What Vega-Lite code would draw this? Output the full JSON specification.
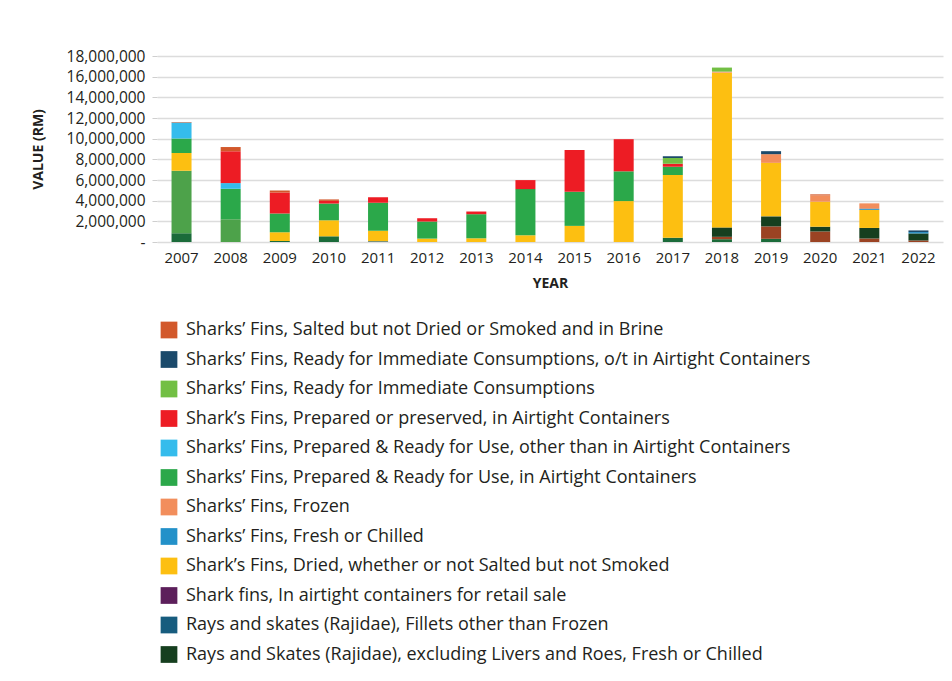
{
  "$schema": "https://vega.github.io/schema/vega-lite/v6.json",
  "width": 786,
  "height": 186,
  "autosize": {"type": "none"},
  "padding": {"left": 157, "top": 56, "right": 9, "bottom": 439},
  "background": "white",
  "config": {
    "font": "Open Sans",
    "view": {"stroke": null}
  },
  "datasets": {
    "series": [
      {"Product": "N", "Rank": 1},
      {"Product": "M", "Rank": 2},
      {"Product": "O", "Rank": 3},
      {"Product": "Rays and Skates (Rajidae), excluding Livers and Roes, Fresh or Chilled", "Rank": 4},
      {"Product": "Rays and skates (Rajidae), Fillets other than Frozen", "Rank": 5},
      {"Product": "Shark fins, In airtight containers for retail sale", "Rank": 6},
      {"Product": "Shark’s Fins, Dried, whether or not Salted but not Smoked", "Rank": 7},
      {"Product": "Sharks’ Fins, Fresh or Chilled", "Rank": 8},
      {"Product": "Sharks’ Fins, Frozen", "Rank": 9},
      {"Product": "Sharks’ Fins, Prepared & Ready for Use, in Airtight Containers", "Rank": 10},
      {"Product": "Sharks’ Fins, Prepared & Ready for Use, other than in Airtight Containers", "Rank": 11},
      {"Product": "Shark’s Fins, Prepared or preserved, in Airtight Containers", "Rank": 12},
      {"Product": "Sharks’ Fins, Ready for Immediate Consumptions", "Rank": 13},
      {"Product": "Sharks’ Fins, Ready for Immediate Consumptions, o/t in Airtight Containers", "Rank": 14},
      {"Product": "Sharks’ Fins, Salted but not Dried or Smoked and in Brine", "Rank": 15}
    ]
  },
  "data": {
    "values": [
      {"Year": "2007", "Product": "N", "Value": 840000},
      {"Year": "2007", "Product": "M", "Value": 6050000},
      {"Year": "2007", "Product": "Shark’s Fins, Dried, whether or not Salted but not Smoked", "Value": 1720000},
      {"Year": "2007", "Product": "Sharks’ Fins, Prepared & Ready for Use, in Airtight Containers", "Value": 1400000},
      {"Year": "2007", "Product": "Sharks’ Fins, Prepared & Ready for Use, other than in Airtight Containers", "Value": 1550000},
      {"Year": "2007", "Product": "Sharks’ Fins, Salted but not Dried or Smoked and in Brine", "Value": 60000},

      {"Year": "2008", "Product": "M", "Value": 2200000},
      {"Year": "2008", "Product": "Sharks’ Fins, Prepared & Ready for Use, in Airtight Containers", "Value": 2950000},
      {"Year": "2008", "Product": "Sharks’ Fins, Prepared & Ready for Use, other than in Airtight Containers", "Value": 550000},
      {"Year": "2008", "Product": "Shark’s Fins, Prepared or preserved, in Airtight Containers", "Value": 3080000},
      {"Year": "2008", "Product": "Sharks’ Fins, Salted but not Dried or Smoked and in Brine", "Value": 410000},

      {"Year": "2009", "Product": "N", "Value": 100000},
      {"Year": "2009", "Product": "Shark’s Fins, Dried, whether or not Salted but not Smoked", "Value": 840000},
      {"Year": "2009", "Product": "Sharks’ Fins, Prepared & Ready for Use, in Airtight Containers", "Value": 1820000},
      {"Year": "2009", "Product": "Shark’s Fins, Prepared or preserved, in Airtight Containers", "Value": 2040000},
      {"Year": "2009", "Product": "Sharks’ Fins, Salted but not Dried or Smoked and in Brine", "Value": 190000},

      {"Year": "2010", "Product": "N", "Value": 550000},
      {"Year": "2010", "Product": "Shark’s Fins, Dried, whether or not Salted but not Smoked", "Value": 1550000},
      {"Year": "2010", "Product": "Sharks’ Fins, Prepared & Ready for Use, in Airtight Containers", "Value": 1620000},
      {"Year": "2010", "Product": "Shark’s Fins, Prepared or preserved, in Airtight Containers", "Value": 260000},
      {"Year": "2010", "Product": "Sharks’ Fins, Salted but not Dried or Smoked and in Brine", "Value": 140000},

      {"Year": "2011", "Product": "Rays and skates (Rajidae), Fillets other than Frozen", "Value": 80000},
      {"Year": "2011", "Product": "Shark’s Fins, Dried, whether or not Salted but not Smoked", "Value": 1000000},
      {"Year": "2011", "Product": "Sharks’ Fins, Prepared & Ready for Use, in Airtight Containers", "Value": 2720000},
      {"Year": "2011", "Product": "Shark’s Fins, Prepared or preserved, in Airtight Containers", "Value": 520000},

      {"Year": "2012", "Product": "Shark’s Fins, Dried, whether or not Salted but not Smoked", "Value": 330000},
      {"Year": "2012", "Product": "Sharks’ Fins, Prepared & Ready for Use, in Airtight Containers", "Value": 1650000},
      {"Year": "2012", "Product": "Shark’s Fins, Prepared or preserved, in Airtight Containers", "Value": 320000},

      {"Year": "2013", "Product": "Shark’s Fins, Dried, whether or not Salted but not Smoked", "Value": 360000},
      {"Year": "2013", "Product": "Sharks’ Fins, Prepared & Ready for Use, in Airtight Containers", "Value": 2330000},
      {"Year": "2013", "Product": "Shark’s Fins, Prepared or preserved, in Airtight Containers", "Value": 260000},

      {"Year": "2014", "Product": "Shark’s Fins, Dried, whether or not Salted but not Smoked", "Value": 650000},
      {"Year": "2014", "Product": "Sharks’ Fins, Prepared & Ready for Use, in Airtight Containers", "Value": 4470000},
      {"Year": "2014", "Product": "Shark’s Fins, Prepared or preserved, in Airtight Containers", "Value": 870000},

      {"Year": "2015", "Product": "Shark’s Fins, Dried, whether or not Salted but not Smoked", "Value": 1560000},
      {"Year": "2015", "Product": "Sharks’ Fins, Prepared & Ready for Use, in Airtight Containers", "Value": 3300000},
      {"Year": "2015", "Product": "Shark’s Fins, Prepared or preserved, in Airtight Containers", "Value": 4050000},

      {"Year": "2016", "Product": "Shark’s Fins, Dried, whether or not Salted but not Smoked", "Value": 3960000},
      {"Year": "2016", "Product": "Sharks’ Fins, Prepared & Ready for Use, in Airtight Containers", "Value": 2880000},
      {"Year": "2016", "Product": "Shark’s Fins, Prepared or preserved, in Airtight Containers", "Value": 3110000},

      {"Year": "2017", "Product": "N", "Value": 400000},
      {"Year": "2017", "Product": "Shark’s Fins, Dried, whether or not Salted but not Smoked", "Value": 6090000},
      {"Year": "2017", "Product": "Sharks’ Fins, Prepared & Ready for Use, in Airtight Containers", "Value": 800000},
      {"Year": "2017", "Product": "Shark’s Fins, Prepared or preserved, in Airtight Containers", "Value": 290000},
      {"Year": "2017", "Product": "Sharks’ Fins, Ready for Immediate Consumptions", "Value": 560000},
      {"Year": "2017", "Product": "Sharks’ Fins, Ready for Immediate Consumptions, o/t in Airtight Containers", "Value": 160000},

      {"Year": "2018", "Product": "N", "Value": 270000},
      {"Year": "2018", "Product": "O", "Value": 230000},
      {"Year": "2018", "Product": "Rays and Skates (Rajidae), excluding Livers and Roes, Fresh or Chilled", "Value": 910000},
      {"Year": "2018", "Product": "Shark’s Fins, Dried, whether or not Salted but not Smoked", "Value": 14980000},
      {"Year": "2018", "Product": "Sharks’ Fins, Frozen", "Value": 100000},
      {"Year": "2018", "Product": "Sharks’ Fins, Ready for Immediate Consumptions", "Value": 390000},

      {"Year": "2019", "Product": "N", "Value": 310000},
      {"Year": "2019", "Product": "O", "Value": 1200000},
      {"Year": "2019", "Product": "Rays and Skates (Rajidae), excluding Livers and Roes, Fresh or Chilled", "Value": 970000},
      {"Year": "2019", "Product": "Shark’s Fins, Dried, whether or not Salted but not Smoked", "Value": 5180000},
      {"Year": "2019", "Product": "Sharks’ Fins, Frozen", "Value": 840000},
      {"Year": "2019", "Product": "Sharks’ Fins, Ready for Immediate Consumptions, o/t in Airtight Containers", "Value": 290000},

      {"Year": "2020", "Product": "O", "Value": 1020000},
      {"Year": "2020", "Product": "Rays and Skates (Rajidae), excluding Livers and Roes, Fresh or Chilled", "Value": 460000},
      {"Year": "2020", "Product": "Shark’s Fins, Dried, whether or not Salted but not Smoked", "Value": 2420000},
      {"Year": "2020", "Product": "Sharks’ Fins, Frozen", "Value": 610000},
      {"Year": "2020", "Product": "Sharks’ Fins, Salted but not Dried or Smoked and in Brine", "Value": 100000},

      {"Year": "2021", "Product": "O", "Value": 340000},
      {"Year": "2021", "Product": "Rays and Skates (Rajidae), excluding Livers and Roes, Fresh or Chilled", "Value": 1020000},
      {"Year": "2021", "Product": "Shark’s Fins, Dried, whether or not Salted but not Smoked", "Value": 1750000},
      {"Year": "2021", "Product": "Sharks’ Fins, Frozen", "Value": 530000},
      {"Year": "2021", "Product": "Sharks’ Fins, Fresh or Chilled", "Value": 100000},

      {"Year": "2022", "Product": "O", "Value": 150000},
      {"Year": "2022", "Product": "Rays and Skates (Rajidae), excluding Livers and Roes, Fresh or Chilled", "Value": 680000},
      {"Year": "2022", "Product": "Sharks’ Fins, Fresh or Chilled", "Value": 130000},
      {"Year": "2022", "Product": "Sharks’ Fins, Ready for Immediate Consumptions, o/t in Airtight Containers", "Value": 160000}
    ]
  },
  "transform": [
    {"lookup": "Product", "from": {"data": {"name": "series"}, "key": "Product", "fields": ["Rank"]}}
  ],
  "mark": {"type": "bar"},
  "encoding": {
    "x": {
      "field": "Year",
      "type": "ordinal",
      "scale": {"paddingInner": 0.593, "paddingOuter": 0.296},
      "axis": {
        "title": "YEAR",
        "titleFontWeight": "bold",
        "titleFontSize": 14,
        "titleColor": "#231f20",
        "titlePadding": 11,
        "labelAngle": 0,
        "labelFontSize": 15,
        "labelColor": "#231f20",
        "labelPadding": 8,
        "ticks": false,
        "domain": false
      }
    },
    "y": {
      "field": "Value",
      "type": "quantitative",
      "stack": "zero",
      "scale": {"domain": [0, 18000000], "nice": false},
      "axis": {
        "title": "VALUE (RM)",
        "titleFontWeight": "bold",
        "titleFontSize": 14,
        "titleColor": "#231f20",
        "titlePadding": 21,
        "values": [0, 2000000, 4000000, 6000000, 8000000, 10000000, 12000000, 14000000, 16000000, 18000000],
        "labelExpr": "datum.value == 0 ? '-' : format(datum.value, ',')",
        "labelFontSize": 15.5,
        "labelColor": "#231f20",
        "labelPadding": 7,
        "tickSize": 5,
        "tickColor": "#cfcfcf",
        "gridColor": "#dcdcdc",
        "gridWidth": 1.5,
        "domain": false
      }
    },
    "order": {"field": "Rank", "type": "quantitative", "sort": "ascending"},
    "color": {
      "field": "Product",
      "type": "nominal",
      "scale": {
        "domain": [
          "Sharks’ Fins, Salted but not Dried or Smoked and in Brine",
          "Sharks’ Fins, Ready for Immediate Consumptions, o/t in Airtight Containers",
          "Sharks’ Fins, Ready for Immediate Consumptions",
          "Shark’s Fins, Prepared or preserved, in Airtight Containers",
          "Sharks’ Fins, Prepared & Ready for Use, other than in Airtight Containers",
          "Sharks’ Fins, Prepared & Ready for Use, in Airtight Containers",
          "Sharks’ Fins, Frozen",
          "Sharks’ Fins, Fresh or Chilled",
          "Shark’s Fins, Dried, whether or not Salted but not Smoked",
          "Shark fins, In airtight containers for retail sale",
          "Rays and skates (Rajidae), Fillets other than Frozen",
          "Rays and Skates (Rajidae), excluding Livers and Roes, Fresh or Chilled",
          "O",
          "M",
          "N"
        ],
        "range": ["#d2582b", "#1b4a6b", "#72bf44", "#ed1c24", "#35bcec", "#2ba84a", "#f28e5c", "#2391c9", "#fdbf11", "#5c1f5b", "#175c7e", "#163f1f", "#9b4323", "#4da24a", "#1b6b3a"]
      },
      "legend": {
        "title": null,
        "orient": "bottom",
        "direction": "vertical",
        "columns": 1,
        "offset": 28,
        "padding": 3,
        "values": [
          "Sharks’ Fins, Salted but not Dried or Smoked and in Brine",
          "Sharks’ Fins, Ready for Immediate Consumptions, o/t in Airtight Containers",
          "Sharks’ Fins, Ready for Immediate Consumptions",
          "Shark’s Fins, Prepared or preserved, in Airtight Containers",
          "Sharks’ Fins, Prepared & Ready for Use, other than in Airtight Containers",
          "Sharks’ Fins, Prepared & Ready for Use, in Airtight Containers",
          "Sharks’ Fins, Frozen",
          "Sharks’ Fins, Fresh or Chilled",
          "Shark’s Fins, Dried, whether or not Salted but not Smoked",
          "Shark fins, In airtight containers for retail sale",
          "Rays and skates (Rajidae), Fillets other than Frozen",
          "Rays and Skates (Rajidae), excluding Livers and Roes, Fresh or Chilled"
        ],
        "symbolType": "square",
        "symbolSize": 280,
        "symbolStrokeWidth": 0,
        "labelFontSize": 18,
        "labelColor": "#231f20",
        "labelOffset": 8,
        "labelLimit": 800,
        "rowPadding": 11.5
      }
    }
  }
}
